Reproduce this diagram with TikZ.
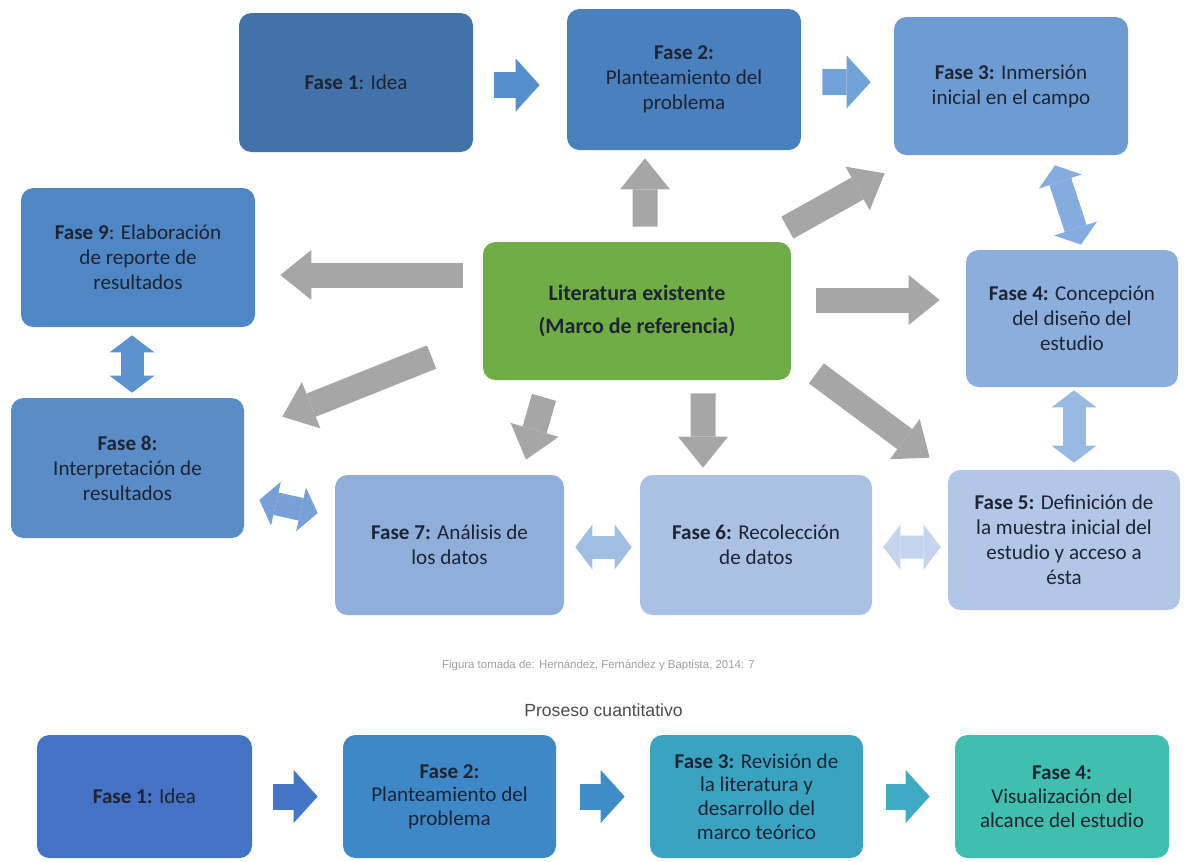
\documentclass[tikz,border=0pt]{standalone}
\usepackage{fontspec}
\setmainfont{Carlito}
\newfontfamily\arialfont{Liberation Sans}
\usetikzlibrary{%
  calc,arrows.meta,shapes,%
  positioning}
\tikzset {>=Stealth}

\definecolor{txt}{RGB}{30,36,52}
\definecolor{fcolA}{RGB}{66,114,168}
\definecolor{fcolB}{RGB}{74,128,190}
\definecolor{fcolC}{RGB}{110,156,210}
\definecolor{fcolD}{RGB}{140,174,220}
\definecolor{fcolE}{RGB}{178,199,230}
\definecolor{fcolF}{RGB}{170,193,228}
\definecolor{fcolG}{RGB}{143,175,218}
\definecolor{fcolH}{RGB}{90,141,200}
\definecolor{fcolI}{RGB}{79,134,196}
\definecolor{litcol}{RGB}{112,173,71}
\definecolor{grayarr}{RGB}{166,166,166}
\definecolor{acolA}{RGB}{85,142,205}
\definecolor{acolB}{RGB}{112,162,216}
\definecolor{acolC}{RGB}{132,172,222}
\definecolor{acolD}{RGB}{152,186,226}
\definecolor{acolE}{RGB}{196,212,236}
\definecolor{acolF}{RGB}{160,190,226}
\definecolor{acolG}{RGB}{118,160,214}
\definecolor{acolH}{RGB}{92,146,206}
\definecolor{qcolA}{RGB}{68,114,196}
\definecolor{qcolB}{RGB}{62,136,200}
\definecolor{qcolC}{RGB}{58,164,192}
\definecolor{qcolD}{RGB}{64,190,176}
\definecolor{qarrA}{RGB}{68,118,198}
\definecolor{qarrB}{RGB}{62,140,200}
\definecolor{qarrC}{RGB}{62,170,196}

\tikzset{
  fase/.style={rounded corners=.25cm, align=center, text=txt,
    font=\fontsize{12}{14.2}\selectfont, inner sep=2pt},
  litbox/.style={fase, font=\fontsize{12.5}{19}\selectfont\bfseries},
  garrow/.style={draw=grayarr, line width=.5cm,
    -{Triangle[length=.62cm,width=1cm,line width=0pt]}},
  barrow/.style={line width=.52cm,
    -{Triangle[length=.48cm,width=1.06cm,line width=0pt]}},
  bdarrow/.style={line width=.46cm,
    {Triangle[length=.34cm,width=.9cm,line width=0pt]}-{Triangle[length=.34cm,width=.9cm,line width=0pt]}}
}

\begin{document}
\begin{tikzpicture}
\useasboundingbox (0,0) rectangle (23.88,-17.22);

\node[fase, fill=fcolA, minimum width=4.68cm, minimum height=2.78cm] (f1) at (7.12,-1.65) {\textbf{Fase 1}: Idea};
\node[fase, fill=fcolB, minimum width=4.68cm, minimum height=2.82cm] (f2) at (13.68,-1.59) {\textbf{Fase 2:}\\Planteamiento del\\problema};
\node[fase, fill=fcolC, minimum width=4.68cm, minimum height=2.76cm] (f3) at (20.22,-1.72) {\textbf{Fase 3:} Inmersión\\inicial en el campo};
\node[fase, fill=fcolI, minimum width=4.68cm, minimum height=2.78cm] (f9) at (2.76,-5.15) {\textbf{Fase 9}: Elaboración\\de reporte de\\resultados};
\node[litbox, fill=litcol, minimum width=6.16cm, minimum height=2.76cm] (lit) at (12.74,-6.22) {Literatura existente\\(Marco de referencia)};
\node[fase, fill=fcolD, minimum width=4.24cm, minimum height=2.74cm] (f4) at (21.44,-6.37) {\textbf{Fase 4:} Concepción\\del diseño del\\estudio};
\node[fase, fill=fcolH, minimum width=4.66cm, minimum height=2.8cm] (f8) at (2.55,-9.36) {\textbf{Fase 8:}\\Interpretación de\\resultados};
\node[fase, fill=fcolG, minimum width=4.58cm, minimum height=2.8cm] (f7) at (8.99,-10.9) {\textbf{Fase 7:} Análisis de\\los datos};
\node[fase, fill=fcolF, minimum width=4.64cm, minimum height=2.8cm] (f6) at (15.12,-10.9) {\textbf{Fase 6:} Recolección\\de datos};
\node[fase, fill=fcolE, minimum width=4.64cm, minimum height=2.8cm] (f5) at (21.28,-10.8) {\textbf{Fase 5:} Definición de\\la muestra inicial del\\estudio y acceso a\\ésta};

\draw[barrow, draw=acolA] ([shift={(.42,-.05)}]f1.east) -- ([shift={(-.54,-.11)}]f2.west);
\draw[barrow, draw=acolB] ([shift={(.42,-.05)}]f2.east) -- ([shift={(-.46,.08)}]f3.west);
\draw[bdarrow, draw=acolC] ([shift={(.88,-.2)}]f3.south) -- ([shift={(.18,.1)}]f4.north);
\draw[bdarrow, draw=acolD] ([shift={(.04,-.06)}]f4.south) -- ([shift={(.2,.14)}]f5.north);
\draw[bdarrow, draw=acolE] ([shift={(.22,-.04)}]f6.east) -- ([shift={(-.14,-.14)}]f5.west);
\draw[bdarrow, draw=acolF] ([shift={(.22,-.04)}]f7.east) -- ([shift={(-.16,-.04)}]f6.west);
\draw[bdarrow, draw=acolG] ([shift={(.3,-.64)}]f8.east) -- ([shift={(-.34,.64)}]f7.west);
\draw[bdarrow, draw=acolH] ([shift={(-.12,-.16)}]f9.south) -- ([shift={(.09,.1)}]f8.north);

\draw[garrow] ([shift={(.16,.3)}]lit.north) -- ([shift={(-.78,-.16)}]f2.south);
\draw[garrow] ([shift={(-.08,.28)}]lit.north east) -- ([shift={(-.18,-.36)}]f3.south west);
\draw[garrow] ([shift={(.5,.22)}]lit.east) -- ([shift={(-.52,.37)}]f4.west);
\draw[garrow] ([shift={(.5,.14)}]lit.south east) -- ([shift={(-.36,.24)}]f5.north west);
\draw[garrow] ([shift={(1.32,-.26)}]lit.south) -- ([shift={(-1.06,.14)}]f6.north);
\draw[garrow] ([shift={(-1.86,-.34)}]lit.south) -- ([shift={(1.53,.3)}]f7.north);
\draw[garrow] ([shift={(-1.02,-.92)}]lit.west) -- ([shift={(.76,-.38)}]f8.north east);
\draw[garrow] ([shift={(-.4,.72)}]lit.west) -- ([shift={(.5,-.35)}]f9.east);

\node[text=gray!75, font=\arialfont\fontsize{6.5}{8}\selectfont] (fuente) at (11.97,-13.3) {Figura tomada de: Hernández, Fernández y Baptista, 2014: 7};
\node[text=black!70, font=\arialfont\fontsize{10}{12}\selectfont] (titulo) at (12.07,-14.2) {Proseso cuantitativo};

\node[fase, fill=qcolA, minimum width=4.3cm, minimum height=2.46cm, font=\fontsize{12}{13.5}\selectfont] (q1) at (2.89,-15.93) {\textbf{Fase 1:} Idea};
\node[fase, fill=qcolB, minimum width=4.26cm, minimum height=2.46cm, font=\fontsize{12}{13.5}\selectfont] (q2) at (8.99,-15.93) {\textbf{Fase 2:}\\Planteamiento del\\problema};
\node[fase, fill=qcolC, minimum width=4.26cm, minimum height=2.46cm, font=\fontsize{12}{13.5}\selectfont] (q3) at (15.13,-15.93) {\textbf{Fase 3:} Revisión de\\la literatura y\\desarrollo del\\marco teórico};
\node[fase, fill=qcolD, minimum width=4.28cm, minimum height=2.46cm, font=\fontsize{12}{13.5}\selectfont] (q4) at (21.24,-15.93) {\textbf{Fase 4:}\\Visualización del\\alcance del estudio};

\draw[barrow, draw=qarrA] ([xshift=.42cm]q1.east) -- ([xshift=-.5cm]q2.west);
\draw[barrow, draw=qarrB] ([xshift=.48cm]q2.east) -- ([xshift=-.5cm]q3.west);
\draw[barrow, draw=qarrC] ([xshift=.46cm]q3.east) -- ([xshift=-.5cm]q4.west);
\end{tikzpicture}
\end{document}
